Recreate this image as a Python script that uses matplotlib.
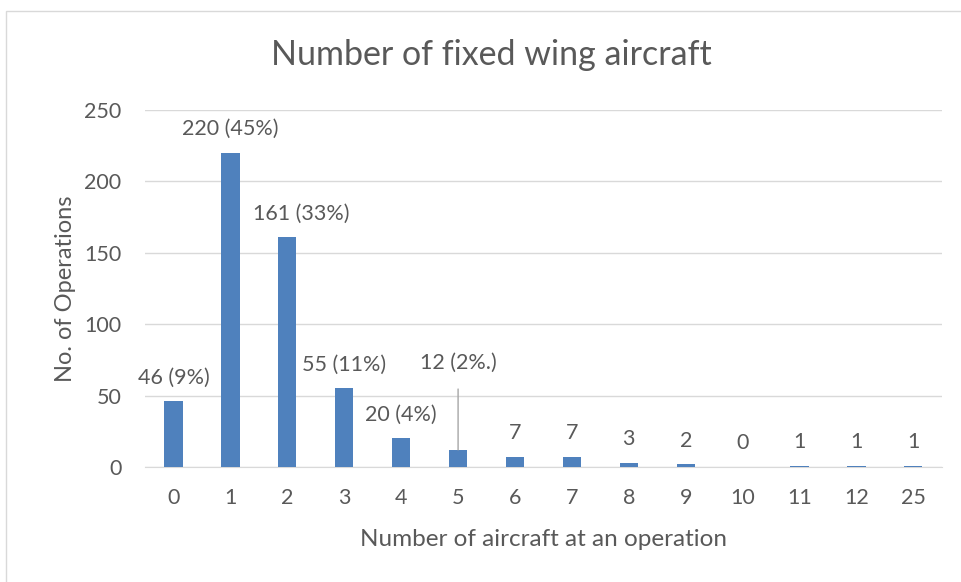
import matplotlib.pyplot as plt
from matplotlib.patches import Rectangle

categories = ['0', '1', '2', '3', '4', '5', '6', '7', '8', '9', '10', '11', '12', '25']
operations = [46, 220, 161, 55, 20, 12, 7, 7, 3, 2, 0, 1, 1, 1]
bar_labels = ['46 (9%)', '220 (45%)', '161 (33%)', '55 (11%)', '20 (4%)', '12 (2%.)',
              '7', '7', '3', '2', '0', '1', '1', '1']

text_color = '#595959'
grid_color = '#D9D9D9'
bar_color = '#4F81BD'

plt.rcParams['font.family'] = ['Lato', 'DejaVu Sans']

fig = plt.figure(figsize=(9.61, 5.82), dpi=100)
fig.patches.append(Rectangle((6 / 961, -0.05), 1.2, 1.05 - 11 / 582,
                             transform=fig.transFigure, fill=False,
                             edgecolor='#D9D9D9', linewidth=1))

ax = fig.add_axes([0.151, 0.1976, 0.829, 0.6134])
x = list(range(len(categories)))
ax.bar(x, operations, width=0.32, color=bar_color, zorder=3)

ax.set_xlim(-0.5, len(categories) - 0.5)
ax.set_ylim(0, 250)
ax.set_yticks([0, 50, 100, 150, 200, 250])
ax.set_xticks(x)
ax.set_xticklabels(categories)
ax.yaxis.grid(True, color=grid_color, linewidth=1, zorder=0)
ax.tick_params(length=0, labelsize=15.5, labelcolor=text_color)
ax.tick_params(axis='x', pad=15)
ax.tick_params(axis='y', pad=17)
for side in ['top', 'right', 'left']:
    ax.spines[side].set_visible(False)
ax.spines['bottom'].set_color(grid_color)

for i, (val, lab) in enumerate(zip(operations, bar_labels)):
    dx, dy = 0, 17
    if lab.startswith('161'):
        dx = 10
    if lab.startswith('12 '):
        # this one sits higher, with a leader line down to the bar
        ax.annotate(lab, xy=(i, val), xytext=(0, 63), textcoords='offset points',
                    ha='center', va='center', fontsize=15.5, color=text_color,
                    arrowprops=dict(arrowstyle='-', color='#A6A6A6', lw=1,
                                    shrinkA=10, shrinkB=0))
        continue
    ax.annotate(lab, xy=(i, val), xytext=(dx, dy), textcoords='offset points',
                ha='center', va='center', fontsize=15.5, color=text_color)

ax.set_ylabel('No. of Operations', fontsize=17, color=text_color, labelpad=6)
ax.set_xlabel('Number of aircraft at an operation', fontsize=17.5, color=text_color, labelpad=15)
fig.text(491 / 961, 1 - 55 / 582, 'Number of fixed wing aircraft', ha='center', va='center',
         fontsize=24.5, color=text_color)

fig.savefig('out.png', dpi=100)
